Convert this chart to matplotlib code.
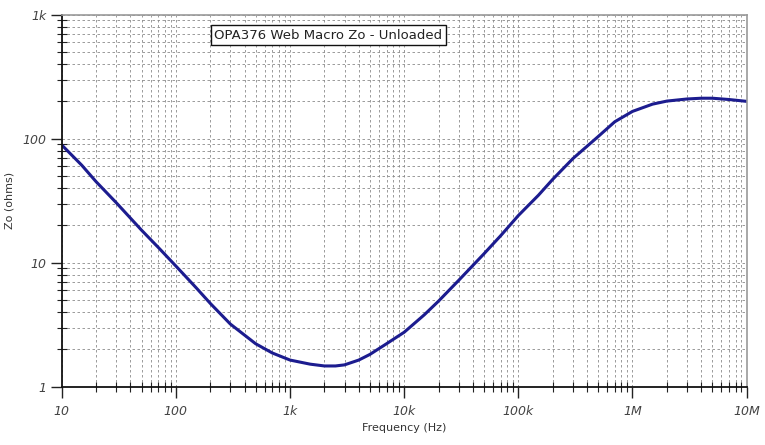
import numpy as np
import matplotlib
matplotlib.use('Agg')
from matplotlib import pyplot as plt
from matplotlib.ticker import LogLocator, FixedLocator, FixedFormatter, NullFormatter

# dpi
my_dpi = 100

# Output impedance
freq = [10, 15, 20, 30, 50, 70, 100, 150, 200, 300, 500, 700,
        1e3, 1.5e3, 2e3, 2.5e3, 3e3, 4e3, 5e3, 7e3,
        1e4, 1.5e4, 2e4, 3e4, 5e4, 7e4,
        1e5, 1.5e5, 2e5, 3e5, 5e5, 7e5,
        1e6, 1.5e6, 2e6, 3e6, 4e6, 5e6, 7e6, 1e7]
zo = [89, 61, 45, 30.5, 18.3, 13.3, 9.4, 6.3, 4.7, 3.2, 2.22, 1.87,
      1.64, 1.52, 1.47, 1.47, 1.5, 1.64, 1.82, 2.22,
      2.75, 3.8, 4.9, 7.2, 11.8, 16.5,
      24, 35, 47, 69, 104, 137,
      166, 190, 201, 209, 212, 212, 207, 200]

xticks = [10, 100, 1e3, 1e4, 1e5, 1e6, 1e7]
xtick_labels = ['10', '100', '1k', '10k', '100k', '1M', '10M']
yticks = [1, 10, 100, 1000]
ytick_labels = ['1', '10', '100', '1k']

fig = plt.figure(figsize=(765/my_dpi, 445/my_dpi), dpi=my_dpi)
ax = fig.add_axes([0.0807, 0.131, 0.8953, 0.836])

ax.plot(freq, zo, color='#1c1c8f', linewidth=2.2, solid_capstyle='round',
        solid_joinstyle='round')

ax.set_xscale('log')
ax.set_yscale('log')
ax.set_xlim(10, 1e7)
ax.set_ylim(1, 1000)

ax.xaxis.set_major_locator(FixedLocator(xticks))
ax.xaxis.set_major_formatter(FixedFormatter(xtick_labels))
ax.yaxis.set_major_locator(FixedLocator(yticks))
ax.yaxis.set_major_formatter(FixedFormatter(ytick_labels))
ax.xaxis.set_minor_locator(LogLocator(base=10, subs=np.arange(2, 10), numticks=20))
ax.yaxis.set_minor_locator(LogLocator(base=10, subs=np.arange(2, 10), numticks=20))
ax.xaxis.set_minor_formatter(NullFormatter())
ax.yaxis.set_minor_formatter(NullFormatter())

ax.grid(True, which='both', color='#8a8a8a', linestyle=(0, (3, 3)), linewidth=0.6)
ax.set_axisbelow(True)

ax.tick_params(which='major', direction='out', length=8, width=1.0, color='#222222',
               labelsize=9, labelcolor='#444444', pad=3)
ax.tick_params(which='minor', direction='inout', length=7, width=0.8, color='#222222')
for label in ax.get_xticklabels() + ax.get_yticklabels():
  label.set_fontstyle('italic')
ax.xaxis.set_tick_params(pad=5)

for side in ['left', 'bottom']:
  ax.spines[side].set_color('#111111')
  ax.spines[side].set_linewidth(1.3)
for side in ['top', 'right']:
  ax.spines[side].set_color('#999999')
  ax.spines[side].set_linewidth(1.2)

ax.set_xlabel('Frequency (Hz)', fontsize=8, color='#333333', labelpad=4)
ax.set_ylabel('Zo (ohms)', fontsize=8, color='#333333', labelpad=6)

ax.text(0.389, 0.945, 'OPA376 Web Macro Zo - Unloaded', transform=ax.transAxes,
        ha='center', va='center', fontsize=9.5, color='#222222',
        bbox=dict(boxstyle='square,pad=0.25', facecolor='white', edgecolor='#111111', linewidth=1.0))

plt.savefig('out.png', dpi=my_dpi)
